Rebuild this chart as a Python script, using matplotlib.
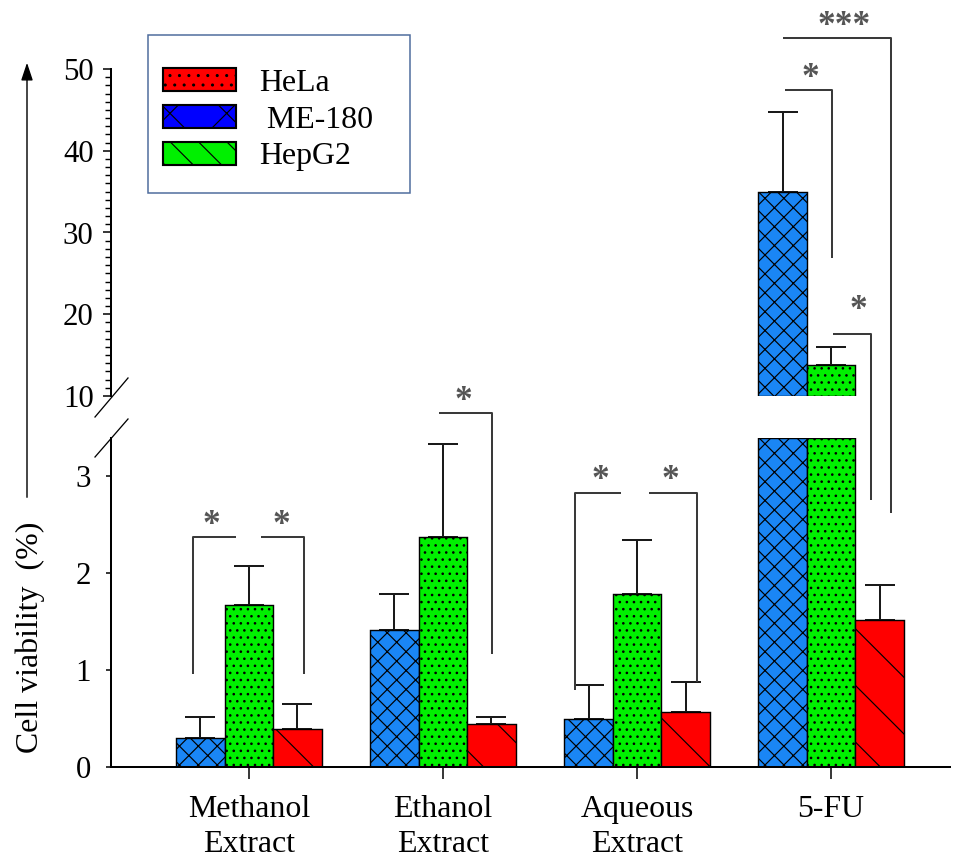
import numpy as np
import matplotlib
matplotlib.use("Agg")
import matplotlib.pyplot as plt
from matplotlib.patches import Patch, Rectangle, FancyArrowPatch
from matplotlib.lines import Line2D
from matplotlib.ticker import MultipleLocator

# ---------------- data ----------------
categories = ["Methanol\nExtract", "Ethanol\nExtract", "Aqueous\nExtract", "5-FU"]
me180_vals = [0.30, 1.41, 0.49, 34.9]
me180_err = [0.22, 0.37, 0.36, 9.8]
hepg2_vals = [1.67, 2.37, 1.78, 13.8]
hepg2_err = [0.40, 0.96, 0.56, 2.2]
hela_vals = [0.39, 0.44, 0.57, 1.51]
hela_err = [0.26, 0.08, 0.31, 0.37]
legend_labels = ["HeLa", " ME-180", "HepG2"]
lower_ticks = [0, 1, 2, 3]
upper_ticks = [10, 20, 30, 40, 50]
y_label = "Cell viability  (%)"

# significance brackets: polylines of (x, y, axis) ; axis 'lo' = 0-3 scale, 'up' = 10-50 scale
brackets = [
    [(-0.289, 0.96, "lo"), (-0.289, 2.37, "lo"), (-0.067, 2.37, "lo")],
    [(0.062, 2.37, "lo"), (0.284, 2.37, "lo"), (0.284, 0.96, "lo")],
    [(0.979, 3.65, "lo"), (1.253, 3.65, "lo"), (1.253, 1.16, "lo")],
    [(1.680, 0.79, "lo"), (1.680, 2.82, "lo"), (1.918, 2.82, "lo")],
    [(2.062, 2.82, "lo"), (2.309, 2.82, "lo"), (2.309, 0.88, "lo")],
    [(2.753, 53.8, "up"), (3.309, 53.8, "up"), (3.309, 2.62, "lo")],
    [(2.763, 47.4, "up"), (3.005, 47.4, "up"), (3.005, 26.9, "up")],
    [(3.010, 17.6, "up"), (3.206, 17.6, "up"), (3.206, 2.75, "lo")],
]
stars = [
    ("*", -0.196, 2.53, "lo"),
    ("*", 0.165, 2.53, "lo"),
    ("*", 1.103, 3.81, "lo"),
    ("*", 1.809, 2.99, "lo"),
    ("*", 2.170, 2.99, "lo"),
    ("***", 3.067, 55.7, "up"),
    ("*", 2.892, 49.3, "up"),
    ("*", 3.139, 21.0, "up"),
]

# ---------------- style ----------------
W, H, DPI = 955, 859, 170
plt.rcParams["font.family"] = ["Liberation Serif", "DejaVu Serif"]
plt.rcParams["hatch.linewidth"] = 0.5

fig = plt.figure(figsize=(W / DPI, H / DPI), dpi=DPI)


def box(l, t, r, b):
    return [l / W, 1 - b / H, (r - l) / W, (b - t) / H]


ax_lo = fig.add_axes(box(111, 438, 950, 767))
ax_up = fig.add_axes(box(111, 69, 950, 396))
for ax in (ax_lo, ax_up):
    ax.patch.set_alpha(0)
    ax.set_xlim(-0.711, 3.613)
    for s in ("top", "right"):
        ax.spines[s].set_visible(False)
    ax.spines["left"].set_linewidth(0.85)
ax_up.spines["bottom"].set_visible(False)
ax_lo.spines["bottom"].set_linewidth(0.85)

LO_TOP, UP_BOT, UP_TOP = 3.39, 10, 50
ax_lo.set_ylim(0, LO_TOP)
ax_up.set_ylim(UP_BOT, UP_TOP)

x = np.arange(len(categories))
width = 0.25
offsets = [-width, 0, width]
series = [
    (me180_vals, me180_err, "#1a86f5", "xxx"),
    (hepg2_vals, hepg2_err, "#00f000", "...."),
    (hela_vals, hela_err, "#ff0000", "\\"),
]
eb_kw = dict(fmt="none", ecolor="#1a1a1a", elinewidth=0.85, capsize=6.4, capthick=0.85, zorder=1)
for off, (vals, errs, col, hat) in zip(offsets, series):
    vals = np.asarray(vals, float)
    errs = np.asarray(errs, float)
    xs = x + off
    ax_lo.bar(xs, np.minimum(vals, LO_TOP), width, color=col, edgecolor="black",
              linewidth=0.6, hatch=hat, zorder=2)
    m = vals < LO_TOP
    ax_lo.errorbar(xs[m], vals[m], yerr=[np.zeros(m.sum()), errs[m]], **eb_kw)
    u = vals > UP_BOT
    if u.any():
        ax_up.bar(xs[u], vals[u] - UP_BOT, width, bottom=UP_BOT, color=col,
                  edgecolor="black", linewidth=0.6, hatch=hat, zorder=2)
        ax_up.errorbar(xs[u], vals[u], yerr=[np.zeros(u.sum()), errs[u]], **eb_kw)

# ticks
ax_lo.set_xticks(x, categories)
for lab in ax_lo.get_xticklabels():
    lab.set_linespacing(1.25)
ax_lo.tick_params(axis="x", direction="out", length=5, width=0.65, pad=7, labelsize=13.5)
ax_lo.set_yticks(lower_ticks)
ax_lo.tick_params(axis="y", direction="out", length=2.1, width=0.65, pad=6.5, labelsize=13)
ax_up.set_xticks([])
ax_up.set_yticks(upper_ticks)
ax_up.yaxis.set_minor_locator(MultipleLocator(1))
ax_up.tick_params(axis="y", which="major", direction="out", length=3.4, width=0.65, pad=4, labelsize=13)
ax_up.tick_params(axis="y", which="minor", direction="out", length=2.5, width=0.6)

axes_map = {"lo": ax_lo, "up": ax_up}
to_fig = fig.transFigure.inverted()


def fpt(xv, yv, which):
    return to_fig.transform(axes_map[which].transData.transform((xv, yv)))


for br in brackets:
    pts = np.array([fpt(*p) for p in br])
    fig.add_artist(Line2D(pts[:, 0], pts[:, 1], transform=fig.transFigure,
                          color="#3a3a3a", lw=0.85, solid_capstyle="butt"))
for txt, xv, yv, which in stars:
    fx, fy = fpt(xv, yv, which)
    fig.text(fx, fy - 4 / H, txt, ha="center", va="center", fontsize=15,
             color="#555555", fontweight="bold")


def fp(px, py):
    return (px / W, 1 - py / H)


# axis break slashes
for (x0, y0, x1, y1) in [(95, 417, 128, 378), (95, 457, 128, 419)]:
    a, b = fp(x0, y0), fp(x1, y1)
    fig.add_artist(Line2D([a[0], b[0]], [a[1], b[1]], transform=fig.transFigure,
                          color="black", lw=0.55))

# y label and arrow
fig.text(*fp(30, 637), y_label, rotation=90, ha="center", va="center", fontsize=13.5)
fig.add_artist(FancyArrowPatch(
    fp(27, 502), fp(27, 58), transform=fig.transFigure,
    arrowstyle="-|>,head_length=0.45,head_width=0.15", mutation_scale=14,
    color="black", lw=0.6))

# legend box + legend
l0, t0 = fp(148, 35)
l1, t1 = fp(410, 193)
fig.add_artist(Rectangle((l0, t1), l1 - l0, t0 - t1, transform=fig.transFigure,
                         fill=False, edgecolor="#4f6d9e", lw=0.65))
handles = [
    Patch(facecolor="#ff0000", edgecolor="black", hatch="...", lw=0.9),
    Patch(facecolor="#0000ff", edgecolor="black", hatch="x", lw=0.9),
    Patch(facecolor="#00f000", edgecolor="black", hatch="\\\\", lw=0.9),
]
fig.legend(handles, legend_labels, loc="upper left", bbox_to_anchor=fp(163, 68),
           frameon=False, fontsize=13.5, handlelength=2.3, handleheight=0.75,
           handletextpad=0.7, labelspacing=0.22, borderpad=0, borderaxespad=0)

fig.savefig("out.png", dpi=DPI)
